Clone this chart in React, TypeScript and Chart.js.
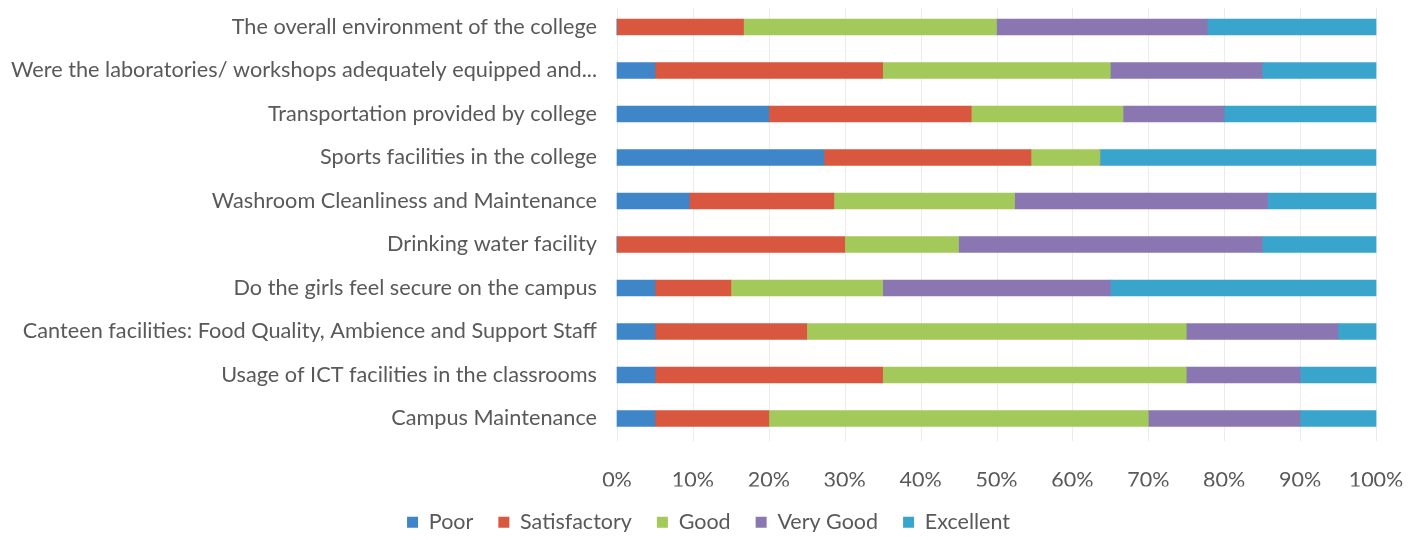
import React, { useEffect, useRef } from 'react';
import { Chart, registerables } from 'chart.js';

Chart.register(...registerables);

const categories: string[] = [
  'The overall environment of the college',
  'Were the laboratories/ workshops adequately equipped and...',
  'Transportation provided by college',
  'Sports facilities in the college',
  'Washroom Cleanliness and Maintenance',
  'Drinking water facility',
  'Do the girls feel secure on the campus',
  'Canteen facilities: Food Quality, Ambience and Support Staff',
  'Usage of ICT facilities in the classrooms',
  'Campus Maintenance',
];

const poor: number[] = [0, 5, 20, 27.27, 9.52, 0, 5, 5, 5, 5];
const satisfactory: number[] = [16.67, 30, 26.67, 27.27, 19.05, 30, 10, 20, 30, 15];
const good: number[] = [33.33, 30, 20, 9.09, 23.81, 15, 20, 50, 40, 50];
const veryGood: number[] = [27.78, 20, 13.33, 0, 33.33, 40, 30, 20, 15, 20];
const excellent: number[] = [22.22, 15, 20, 36.36, 14.29, 15, 35, 5, 10, 10];

const seriesNames: string[] = ['Poor', 'Satisfactory', 'Good', 'Very Good', 'Excellent'];
const seriesColors: string[] = ['#3f86c8', '#d9573e', '#a3c95a', '#8a76b0', '#3aa5cc'];

const xMin = 0;
const xMax = 100;
const xStep = 10;

const FONT = 'Lato, "Liberation Sans", sans-serif';
const TEXT = '#595959';

const extendedGrid = {
  id: 'extendedGrid',
  beforeDatasetsDraw(chart: any) {
    const xs = chart.scales.x;
    const { top, bottom } = chart.chartArea;
    const ctx = chart.ctx;
    ctx.save();
    ctx.strokeStyle = '#ececec';
    ctx.lineWidth = 1;
    xs.ticks.forEach((t: any) => {
      const px = Math.round(xs.getPixelForValue(t.value)) + 0.5;
      ctx.beginPath();
      ctx.moveTo(px, Math.max(0, top - 27));
      ctx.lineTo(px, bottom + 23);
      ctx.stroke();
    });
    ctx.restore();
  },
};

export default function App() {
  const ref = useRef<HTMLCanvasElement | null>(null);

  useEffect(() => {
    if (!ref.current) return;
    const values = [poor, satisfactory, good, veryGood, excellent];
    const chart = new Chart(ref.current, {
      type: 'bar',
      data: {
        labels: categories,
        datasets: seriesNames.map((name, i) => ({
          label: name,
          data: values[i],
          backgroundColor: seriesColors[i],
          borderWidth: 0,
          barThickness: 16,
          clip: false as any,
        })),
      },
      options: {
        indexAxis: 'y',
        responsive: false,
        animation: false,
        layout: { padding: { top: 19, right: 0, bottom: -3, left: 0 } },
        plugins: {
          tooltip: { enabled: false },
          legend: {
            position: 'bottom',
            labels: {
              boxWidth: 11,
              boxHeight: 11,
              padding: 25,
              color: TEXT,
              font: { family: FONT, size: 21.5 },
            },
          },
        },
        scales: {
          x: {
            stacked: true,
            min: xMin,
            max: xMax,
            grid: { display: false, drawTicks: false },
            border: { display: false },
            afterFit: (s: any) => {
              s.height = 68;
              s.paddingLeft = 0;
              s.paddingRight = 33;
            },
            ticks: {
              stepSize: xStep,
              padding: 49,
              color: TEXT,
              font: { family: FONT, size: 21.5 },
              callback: (v: any) => v + '%',
            },
          },
          y: {
            stacked: true,
            offset: false,
            grid: { display: false, drawTicks: false },
            border: { display: false },
            afterFit: (s: any) => {
              s.width = 609;
              s.paddingTop = 0;
              s.paddingBottom = 0;
            },
            ticks: {
              padding: 20,
              color: TEXT,
              font: { family: FONT, size: 21.7 },
              autoSkip: false,
            },
          },
        },
      },
      plugins: [extendedGrid],
    });
    return () => chart.destroy();
  }, []);

  return (
    <div style={{ width: 1401, height: 532, marginBottom: -8 }}>
      <canvas ref={ref} width={1401} height={532} style={{ display: 'block' }} />
    </div>
  );
}
